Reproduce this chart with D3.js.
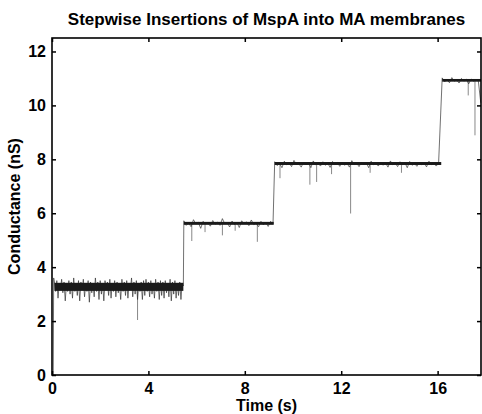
<!DOCTYPE html>
<html>
<head>
<meta charset="utf-8">
<script src="https://cdn.jsdelivr.net/npm/d3@7"></script>
<style>
  body { margin: 0; background: #fff; }
  svg { display: block; font-family: 'Liberation Sans', Arial, sans-serif; }
  .tick text { font-size: 16px; font-weight: bold; fill: #000; }
</style>
</head>
<body>
<svg width="482" height="414"></svg>
<script>
// tick values
const timeTicks = [0, 4, 8, 12, 16];
const condTicks = [0, 2, 4, 6, 8, 10, 12];

// dense part of the noise on each level: start, end (s), low, high (nS)
const bands = [
  [0.1, 5.45, 3.12, 3.42],
  [5.47, 9.2, 5.57, 5.68],
  [9.24, 16.15, 7.79, 7.9],
  [16.19, 17.8, 10.88, 10.98]
];

// trace, one segment per conductance level
// each segment: start time, sample spacing (s), conductance values (nS)
const leadIn = [[0.05, 0], [0.07, 3.6]];
const seg1Start = 0.1, seg1Dt = 0.05;
const seg1 = [
  3.45, 3.1, 3.5, 2.85, 3.4, 3.15, 3.55, 3.05, 3.45, 2.75,
  3.4, 3.1, 3.5, 3.0, 3.45, 2.85, 3.6, 3.1, 3.4, 2.95,
  3.5, 2.75, 3.45, 3.15, 3.55, 2.9, 3.4, 3.1, 3.5, 2.7,
  3.45, 3.05, 3.4, 2.9, 3.6, 3.1, 3.45, 2.8, 3.5, 3.0,
  3.4, 2.75, 3.5, 3.15, 3.45, 2.95, 3.55, 2.85, 3.4, 3.1,
  3.5, 2.9, 3.45, 3.05, 3.4, 2.8, 3.55, 3.1, 3.45, 2.95,
  3.5, 2.85, 3.4, 3.15, 3.6, 2.9, 3.45, 3.0, 3.5, 2.8,
  3.4, 3.1, 3.45, 2.8, 3.5, 2.95, 3.55, 3.1, 3.45, 2.9,
  3.5, 3.0, 3.4, 2.85, 3.55, 3.1, 3.45, 2.8, 3.5, 2.95,
  3.45, 2.85, 3.5, 3.05, 3.4, 2.9, 3.55, 2.75, 3.45, 3.0,
  3.5, 2.85, 3.4, 2.95, 3.45, 2.8, 3.4, 3.3
];
const seg2Start = 5.47, seg2Dt = 0.1;
const seg2 = [
  5.72, 5.55, 5.64, 5.5, 5.76, 5.6, 5.66, 5.44, 5.7, 5.61,
  5.63, 5.52, 5.73, 5.59, 5.67, 5.55, 5.8, 5.6, 5.65, 5.49,
  5.71, 5.58, 5.66, 5.47, 5.72, 5.61, 5.68, 5.54, 5.75, 5.58,
  5.63, 5.5, 5.7, 5.57, 5.66, 5.51, 5.7, 5.6
];
const seg3Start = 9.24, seg3Dt = 0.1;
const seg3 = [
  7.91, 7.77, 7.85, 7.69, 7.93, 7.8, 7.86, 7.73, 7.96, 7.81,
  7.84, 7.71, 7.9, 7.79, 7.88, 7.69, 7.94, 7.8, 7.85, 7.75,
  7.91, 7.78, 7.86, 7.7, 7.92, 7.81, 7.88, 7.74, 7.9, 7.78,
  7.85, 7.71, 7.95, 7.8, 7.86, 7.73, 7.9, 7.79, 7.88, 7.69,
  7.93, 7.8, 7.85, 7.75, 7.9, 7.78, 7.87, 7.71, 7.94, 7.8,
  7.86, 7.73, 7.91, 7.8, 7.88, 7.69, 7.92, 7.78, 7.85, 7.74,
  7.9, 7.8, 7.87, 7.72, 7.93, 7.8, 7.86, 7.75, 7.85
];
const seg4Start = 16.19, seg4Dt = 0.1;
const seg4 = [
  11.02, 10.87, 10.96, 10.84, 11.03, 10.9, 10.95, 10.83, 11.0, 10.9,
  10.97, 10.8, 10.98, 10.9, 10.95, 10.9, 10.1
];

// single short closures: time, level before, lowest value reached
const spikes = [
  [3.55, 3.3, 2.04],
  [5.8, 5.62, 4.97], [6.35, 5.62, 5.3], [7.07, 5.62, 5.18], [7.6, 5.62, 5.35], [8.52, 5.62, 4.94],
  [9.46, 7.84, 7.3], [10.7, 7.84, 7.06], [10.98, 7.84, 7.16], [11.6, 7.84, 7.45],
  [12.39, 7.84, 5.99], [13.2, 7.84, 7.5], [14.5, 7.84, 7.5],
  [17.27, 10.93, 10.37], [17.55, 10.93, 8.89]
];

const svg = d3.select('svg'),
      margin = { top: 38, right: 1, bottom: 39, left: 52 },
      width = +svg.attr('width') - margin.left - margin.right,
      height = +svg.attr('height') - margin.top - margin.bottom,
      g = svg.append('g')
             .attr('transform', 'translate(' + margin.left + ',' + margin.top + ')');

const x = d3.scaleLinear().domain([0, 17.8]).range([0, width]);
const y = d3.scaleLinear().domain([0, 12.5]).range([height, 0]);

// put all samples in one list
const trace = leadIn.map((d) => { return { t: d[0], v: d[1] }; });
[[seg1Start, seg1Dt, seg1], [seg2Start, seg2Dt, seg2],
 [seg3Start, seg3Dt, seg3], [seg4Start, seg4Dt, seg4]].forEach((s) => {
  s[2].forEach((v, i) => { trace.push({ t: s[0] + i * s[1], v: v }); });
});

const line = d3.line()
               .x((d) => { return x(d.t); })
               .y((d) => { return y(d.v); });

g.selectAll('.spike')
  .data(spikes)
  .enter().append('line')
    .attr('class', 'spike')
    .attr('x1', (d) => { return x(d[0]); })
    .attr('x2', (d) => { return x(d[0]); })
    .attr('y1', (d) => { return y(d[1]); })
    .attr('y2', (d) => { return y(d[2]); })
    .attr('stroke', '#888')
    .attr('stroke-width', 1);

g.append('path')
    .datum(trace)
    .attr('fill', 'none')
    .attr('stroke', '#333')
    .attr('stroke-width', 0.7)
    .attr('d', line);

g.selectAll('.band')
  .data(bands)
  .enter().append('rect')
    .attr('class', 'band')
    .attr('x', (d) => { return x(d[0]); })
    .attr('width', (d) => { return x(d[1]) - x(d[0]); })
    .attr('y', (d) => { return y(d[3]); })
    .attr('height', (d) => { return y(d[2]) - y(d[3]); })
    .attr('fill', '#1a1a1a');

// axes with inward ticks on all four sides
g.append('g')
    .attr('transform', 'translate(0,' + height + ')')
    .call(d3.axisBottom(x).tickValues(timeTicks).tickSize(-4).tickPadding(8))
  .select('.domain').remove();

g.append('g')
    .call(d3.axisLeft(y).tickValues(condTicks).tickSize(-4).tickPadding(6))
  .select('.domain').remove();

g.append('g')
    .call(d3.axisTop(x).tickValues(timeTicks).tickSize(-4).tickFormat(''))
  .select('.domain').remove();

g.append('g')
    .attr('transform', 'translate(' + width + ',0)')
    .call(d3.axisRight(y).tickValues(condTicks).tickSize(-4).tickFormat(''))
  .select('.domain').remove();

g.selectAll('.tick line').attr('stroke', '#000').attr('stroke-width', 1.5);

g.append('rect')
    .attr('width', width)
    .attr('height', height)
    .attr('fill', 'none')
    .attr('stroke', '#000')
    .attr('stroke-width', 1.6);

svg.append('text')
    .attr('x', margin.left + width / 2)
    .attr('y', 25)
    .attr('text-anchor', 'middle')
    .attr('font-size', 17)
    .attr('font-weight', 'bold')
    .text('Stepwise Insertions of MspA into MA membranes');

svg.append('text')
    .attr('x', margin.left + width / 2)
    .attr('y', 411)
    .attr('text-anchor', 'middle')
    .attr('font-size', 16)
    .attr('font-weight', 'bold')
    .text('Time (s)');

svg.append('text')
    .attr('transform', 'translate(20,' + (margin.top + height / 2) + ') rotate(-90)')
    .attr('text-anchor', 'middle')
    .attr('font-size', 16)
    .attr('font-weight', 'bold')
    .text('Conductance (nS)');
</script>
</body>
</html>
